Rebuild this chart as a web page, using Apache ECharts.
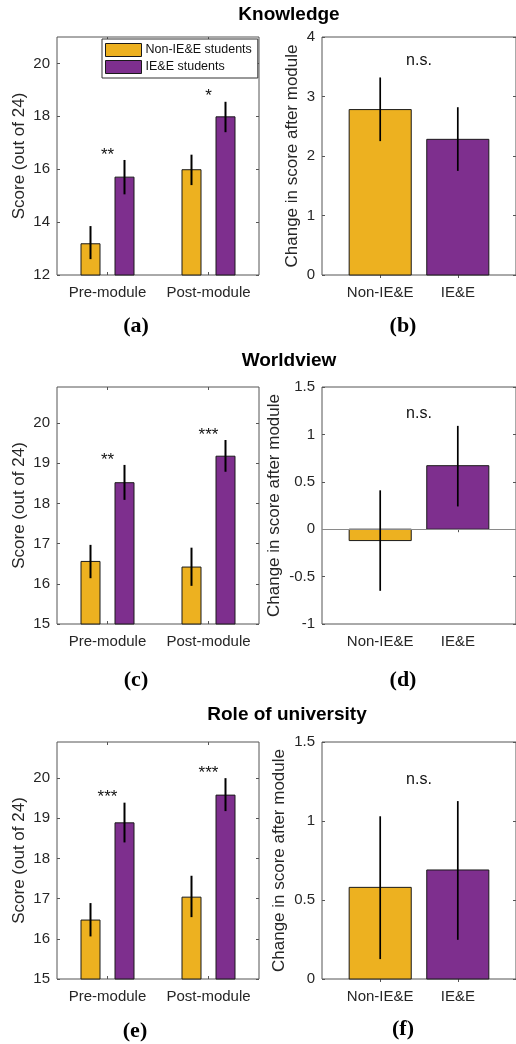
<!DOCTYPE html>
<html>
<head>
<meta charset="utf-8">
<script src="https://cdn.jsdelivr.net/npm/echarts@6/dist/echarts.min.js"></script>
<style>html,body{margin:0;padding:0;background:#fff}#chart{width:516px;height:1044px}</style>
</head>
<body>
<div id="chart"></div>
<script>
// ---------------- DATA ----------------
const groupLabels = ['Pre-module', 'Post-module'];
const studentGroups = ['Non-IE&E students', 'IE&E students'];
const changeLabels = ['Non-IE&E', 'IE&E'];
const panelTitles = ['Knowledge', 'Worldview', 'Role of university'];
const panelTags = ['(a)', '(b)', '(c)', '(d)', '(e)', '(f)'];

// Knowledge
const knowNon = [13.2, 16.0];
const knowNonLo = [12.6, 15.4];
const knowNonHi = [13.85, 16.55];
const knowIe = [15.72, 18.0];
const knowIeLo = [15.05, 17.4];
const knowIeHi = [16.35, 18.55];
const knowSig = ['**', '*'];
const knowChange = [2.78, 2.28];
const knowChangeLo = [2.25, 1.75];
const knowChangeHi = [3.32, 2.82];

// Worldview
const worldNon = [16.57, 16.43];
const worldNonLo = [16.14, 15.95];
const worldNonHi = [16.97, 16.9];
const worldIe = [18.53, 19.19];
const worldIeLo = [18.09, 18.79];
const worldIeHi = [18.96, 19.58];
const worldSig = ['**', '***'];
const worldChange = [-0.12, 0.67];
const worldChangeLo = [-0.65, 0.24];
const worldChangeHi = [0.41, 1.09];

// Role of university
const roleNon = [16.48, 17.05];
const roleNonLo = [16.06, 16.54];
const roleNonHi = [16.89, 17.57];
const roleIe = [18.9, 19.59];
const roleIeLo = [18.4, 19.18];
const roleIeHi = [19.39, 20.0];
const roleSig = ['***', '***'];
const roleChange = [0.58, 0.69];
const roleChangeLo = [0.126, 0.248];
const roleChangeHi = [1.03, 1.126];

// "n.s." annotation heights (data units)
const nsY = [3.6, 1.22, 1.26];

// Axis ranges and tick labels
const knowRange = [12, 21];
const knowTicks = [12, 14, 16, 18, 20];
const scoreRange = [15, 20.9];
const scoreTicks = [15, 16, 17, 18, 19, 20];
const knowChangeRange = [0, 4];
const knowChangeTicks = [0, 1, 2, 3, 4];
const worldChangeRange = [-1, 1.5];
const worldChangeTicks = [-1, -0.5, 0, 0.5, 1, 1.5];
const roleChangeRange = [0, 1.5];
const roleChangeTicks = [0, 0.5, 1, 1.5];

// ---------------- STYLE ----------------
const FONT = 'Liberation Sans, Arial, sans-serif';
const SERIF = 'Liberation Serif, Times New Roman, serif';
const YELLOW = '#EDB120';
const PURPLE = '#7E2F8E';
const AXIS = '#555555';
const TEXT = '#262626';

const scorePanels = [
  { left: 57, top: 37, height: 238, range: knowRange, ticks: knowTicks, interval: 2, nameGap: 29,
    non: knowNon, nonLo: knowNonLo, nonHi: knowNonHi, ie: knowIe, ieLo: knowIeLo, ieHi: knowIeHi, sig: knowSig },
  { left: 57, top: 387, height: 237, range: scoreRange, ticks: scoreTicks, interval: 1, nameGap: 29,
    non: worldNon, nonLo: worldNonLo, nonHi: worldNonHi, ie: worldIe, ieLo: worldIeLo, ieHi: worldIeHi, sig: worldSig },
  { left: 57, top: 742, height: 237, range: scoreRange, ticks: scoreTicks, interval: 1, nameGap: 29,
    non: roleNon, nonLo: roleNonLo, nonHi: roleNonHi, ie: roleIe, ieLo: roleIeLo, ieHi: roleIeHi, sig: roleSig }
];
const changePanels = [
  { left: 322, top: 37, height: 238, range: knowChangeRange, ticks: knowChangeTicks, interval: 1, nameGap: 21,
    vals: knowChange, lo: knowChangeLo, hi: knowChangeHi, ns: nsY[0], baseline: false },
  { left: 322, top: 387, height: 237, range: worldChangeRange, ticks: worldChangeTicks, interval: 0.5, nameGap: 39,
    vals: worldChange, lo: worldChangeLo, hi: worldChangeHi, ns: nsY[1], baseline: true },
  { left: 322, top: 742, height: 237, range: roleChangeRange, ticks: roleChangeTicks, interval: 0.5, nameGap: 34,
    vals: roleChange, lo: roleChangeLo, hi: roleChangeHi, ns: nsY[2], baseline: false }
];

const grids = [], xAxes = [], yAxes = [], series = [];
const PANEL_W = 202;

function tickStyle(custom) {
  const t = { show: true, inside: true, length: 3, lineStyle: { color: AXIS, width: 1 } };
  if (custom) t.customValues = custom;
  return t;
}
function addYAxes(g, p, name) {
  yAxes.push({
    gridIndex: g, type: 'value', position: 'left', min: p.range[0], max: p.range[1], interval: p.interval,
    axisLine: { show: false }, splitLine: { show: false },
    axisTick: tickStyle(p.ticks),
    axisLabel: { customValues: p.ticks, fontSize: 15, fontFamily: FONT, color: TEXT, margin: 7 },
    name: name, nameLocation: 'middle', nameGap: p.nameGap,
    nameTextStyle: { fontSize: 17, fontFamily: FONT, color: TEXT }
  });
  yAxes.push({
    gridIndex: g, type: 'value', position: 'right', min: p.range[0], max: p.range[1], interval: p.interval,
    axisLine: { show: false }, splitLine: { show: false },
    axisTick: tickStyle(p.ticks), axisLabel: { show: false }
  });
}

function errorRender(width, shiftPx) {
  return function (params, api) {
    const x = api.value(0);
    const a = api.coord([x, api.value(1)]);
    const b = api.coord([x, api.value(2)]);
    const dx = shiftPx ? api.value(3) * shiftPx : 0;
    return { type: 'line', shape: { x1: a[0] + dx, y1: a[1], x2: b[0] + dx, y2: b[1] },
             style: { stroke: '#000', lineWidth: width } };
  };
}

let g = 0;
scorePanels.forEach(function (p, k) {
  grids.push({ left: p.left, top: p.top, width: PANEL_W, height: p.height, show: true,
               borderColor: AXIS, borderWidth: 1, containLabel: false });
  const xi = xAxes.length, yi = yAxes.length;
  xAxes.push({ gridIndex: g, type: 'category', data: groupLabels, position: 'bottom', boundaryGap: true,
    axisLine: { show: false }, axisTick: Object.assign(tickStyle(), { alignWithLabel: true }),
    axisLabel: { interval: 0, hideOverlap: false, fontSize: 15, fontFamily: FONT, color: TEXT, margin: 10 } });
  xAxes.push({ gridIndex: g, type: 'category', data: groupLabels, position: 'top', boundaryGap: true,
    axisLine: { show: false }, axisTick: Object.assign(tickStyle(), { alignWithLabel: true }),
    axisLabel: { show: false } });
  addYAxes(g, p, 'Score (out of 24)');

  series.push({ type: 'bar', name: studentGroups[0], xAxisIndex: xi, yAxisIndex: yi, data: p.non,
    barWidth: 20, barGap: '70%', z: 2,
    itemStyle: { color: YELLOW, borderColor: '#1a1a1a', borderWidth: 1 } });
  series.push({ type: 'bar', name: studentGroups[1], xAxisIndex: xi, yAxisIndex: yi, data: p.ie,
    barWidth: 20, barGap: '70%', z: 2,
    itemStyle: { color: PURPLE, borderColor: '#1a1a1a', borderWidth: 1 } });

  const errData = [];
  groupLabels.forEach(function (_, i) {
    errData.push([i, p.nonLo[i], p.nonHi[i], -1]);
    errData.push([i, p.ieLo[i], p.ieHi[i], 1]);
  });
  series.push({ type: 'custom', xAxisIndex: xi, yAxisIndex: yi, z: 5, silent: true,
    encode: { x: 0, y: [1, 2] }, data: errData, renderItem: errorRender(2, 17) });

  const sig = p.sig;
  series.push({ type: 'custom', xAxisIndex: xi, yAxisIndex: yi, z: 5, silent: true,
    encode: { x: 0, y: 1 }, data: groupLabels.map(function (_, i) { return [i, p.ieHi[i]]; }),
    renderItem: function (params, api) {
      const c = api.coord([api.value(0), api.value(1)]);
      return { type: 'text', x: c[0], y: c[1] - 5,
        style: { text: sig[params.dataIndex], align: 'center', verticalAlign: 'middle',
                 fontSize: 17, fontFamily: FONT, fill: '#111' } };
    } });
  g++;

  // matching change panel
  const q = changePanels[k];
  grids.push({ left: q.left, top: q.top, width: PANEL_W, height: q.height, show: true,
               borderColor: AXIS, borderWidth: 1, containLabel: false });
  const xj = xAxes.length, yj = yAxes.length;
  const catPos = changeLabels.map(function (_, i) { return i + 1; });
  xAxes.push({ gridIndex: g, type: 'value', position: 'bottom', min: 0.25, max: 2.75,
    axisLine: { show: false }, splitLine: { show: false },
    axisTick: tickStyle(catPos),
    axisLabel: { customValues: catPos, fontSize: 15, fontFamily: FONT, color: TEXT, margin: 10,
      formatter: function (v) { return changeLabels[Math.round(v) - 1] || ''; } } });
  xAxes.push({ gridIndex: g, type: 'value', position: 'top', min: 0.25, max: 2.75,
    axisLine: { show: false }, splitLine: { show: false },
    axisTick: tickStyle(catPos), axisLabel: { show: false } });
  addYAxes(g, q, 'Change in score after module');

  const colors = [YELLOW, PURPLE];
  const barSeries = { type: 'custom', xAxisIndex: xj, yAxisIndex: yj, z: 2, silent: true,
    encode: { x: 0, y: 1 }, data: changeLabels.map(function (_, i) { return [i + 1, q.vals[i]]; }),
    renderItem: function (params, api) {
      const x = api.value(0), v = api.value(1);
      const p0 = api.coord([x - 0.4, 0]);
      const p1 = api.coord([x + 0.4, v]);
      return { type: 'rect',
        shape: { x: p0[0], y: Math.min(p0[1], p1[1]), width: p1[0] - p0[0], height: Math.abs(p1[1] - p0[1]) },
        style: { fill: colors[params.dataIndex], stroke: '#1a1a1a', lineWidth: 1 } };
    } };
  if (q.baseline) {
    barSeries.markLine = { silent: true, symbol: 'none', label: { show: false },
      lineStyle: { color: '#8a8a8a', width: 1, type: 'solid' }, data: [{ yAxis: 0 }] };
  }
  series.push(barSeries);
  series.push({ type: 'custom', xAxisIndex: xj, yAxisIndex: yj, z: 5, silent: true,
    encode: { x: 0, y: [1, 2] },
    data: changeLabels.map(function (_, i) { return [i + 1, q.lo[i], q.hi[i]]; }),
    renderItem: errorRender(1.7, 0) });
  series.push({ type: 'custom', xAxisIndex: xj, yAxisIndex: yj, z: 5, silent: true,
    encode: { x: 0, y: 1 }, data: [[1.5, q.ns]],
    renderItem: function (params, api) {
      const c = api.coord([api.value(0), api.value(1)]);
      return { type: 'text', x: c[0], y: c[1],
        style: { text: 'n.s.', align: 'center', verticalAlign: 'middle',
                 fontSize: 16, fontFamily: FONT, fill: '#111' } };
    } });
  g++;
});

// Titles and panel tags (positions only)
const titlePos = [[289, 15], [289, 361], [287, 715]];
const tagPos = [[136, 326], [403, 326], [136, 680], [403, 680], [135, 1031], [403, 1029]];
const graphics = [];
panelTitles.forEach(function (t, i) {
  graphics.push({ type: 'text', x: titlePos[i][0], y: titlePos[i][1], silent: true,
    style: { text: t, align: 'center', verticalAlign: 'middle', fontSize: 19, fontWeight: 'bold',
             fontFamily: FONT, fill: '#000' } });
});
panelTags.forEach(function (t, i) {
  graphics.push({ type: 'text', x: tagPos[i][0], y: tagPos[i][1], silent: true,
    style: { text: t, align: 'center', verticalAlign: 'middle', fontSize: 22, fontWeight: 'bold',
             fontFamily: SERIF, fill: '#000' } });
});

const chart = echarts.init(document.getElementById('chart'), null, { renderer: 'canvas' });
chart.setOption({
  animation: false,
  backgroundColor: '#fff',
  grid: grids,
  xAxis: xAxes,
  yAxis: yAxes,
  legend: {
    data: studentGroups, orient: 'vertical', left: 102, top: 39,
    itemWidth: 36, itemHeight: 13, itemGap: 3, padding: [4, 6, 4, 3],
    borderColor: '#333', borderWidth: 1, backgroundColor: '#fff', icon: 'rect',
    selectedMode: false, z: 10,
    itemStyle: { borderColor: '#1a1a1a', borderWidth: 1 },
    textStyle: { fontSize: 12.5, fontFamily: FONT, color: '#111', padding: [0, 0, 0, -1] }
  },
  graphic: graphics,
  series: series
});
</script>
</body>
</html>
